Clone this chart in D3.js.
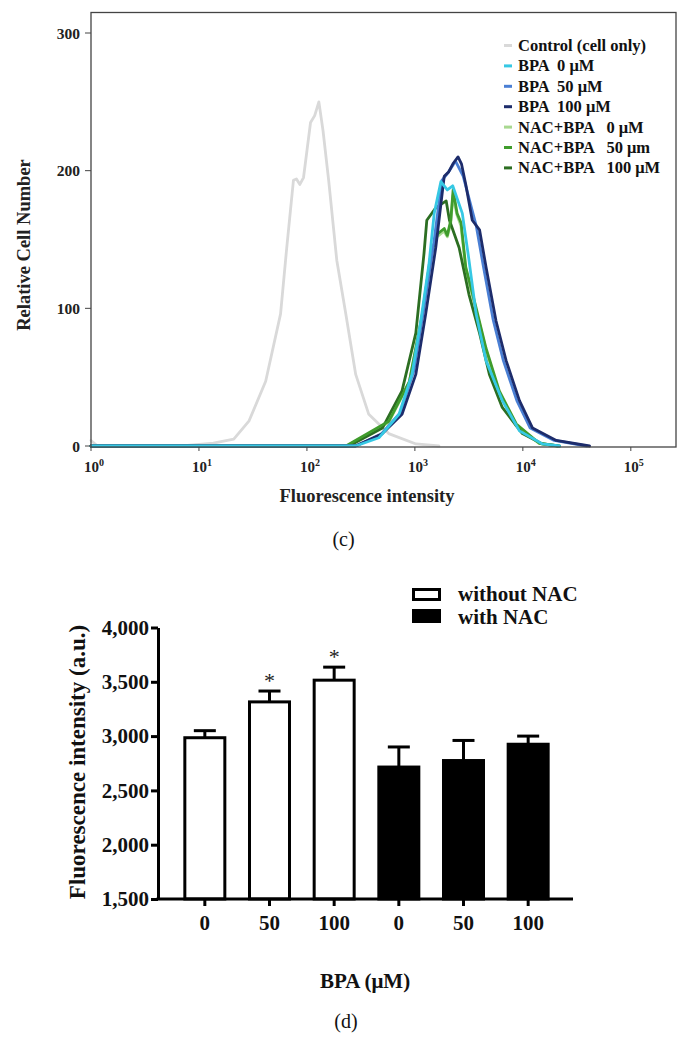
<!DOCTYPE html>
<html><head><meta charset="utf-8">
<script src="https://cdn.jsdelivr.net/npm/d3@7"></script>
<style>
body{margin:0;background:#fff}
svg{display:block}
text{font-family:"Liberation Serif","Times New Roman",Times,serif}
</style>
</head><body>
<svg id="chart" width="693" height="1046"></svg>
<script>
// ---------- Panel (c): flow cytometry histograms ----------
const histNames = ["Control (cell only)","BPA  0 μM","BPA  50 μM","BPA  100 μM","NAC+BPA   0 μM","NAC+BPA   50 μm","NAC+BPA   100 μM"];
const histColors = ["#d9d9d9","#36c8e4","#4a7fd4","#1d2c6b","#a8d890","#3f9c2c","#2c6e22"];
const xTickValues = [1,10,100,1000,10000,100000];
const yTickValuesTop = [0,100,200,300];

// [fluorescence intensity, relative cell number]
const controlCurve = [[1,4],[1.15,0],[6.9,0],[13.6,2],[21,5],[29,18],[41.5,47],[57,96],[65,144],[75,193],[80,194],[86,190],[93,195],[108,235],[118,240],[129,250],[141,229],[159,193],[189,135],[229,96],[283,52],[374,23],[572,9],[1025,1.5],[1670,0]];
const bpa0Curve = [[1,0],[283,0],[464,6],[712,23],[940,52],[1135,91],[1350,132],[1510,169],[1740,192],[1995,186],[2240,189],[2750,169],[3170,135],[3690,96],[4560,62],[6450,33],[9300,11],[15200,1.5],[21900,0]];
const bpa50Curve = [[1,0],[280,0],[480,8],[730,24],[980,55],[1210,100],[1500,148],[1780,193],[2050,199],[2380,207],[2800,196],[3700,160],[4300,131],[5300,92],[6600,62],[8800,33],[11700,13],[19500,4],[39000,0]];
const bpa100Curve = [[1,0],[283,0],[500,9],[760,23],[1020,52],[1260,96],[1560,144],[1870,196],[2050,199],[2250,205],[2510,210],[2700,205],[2960,190],[3400,164],[3970,157],[4560,130],[5640,91],[7000,62],[9300,33],[12300,13],[20400,4],[41500,0]];
const nac0Curve = [[1,0],[235,0],[570,17],[885,46],[1170,95],[1400,138],[1610,152],[1860,156],[2000,152],[2150,162],[2250,182],[2450,168],[2670,160],[2950,129],[3650,100],[4550,70],[6000,39],[8600,15],[14000,2],[21000,0]];
const nac50Curve = [[1,0],[230,0],[574,18],[890,47],[1175,96],[1410,140],[1620,154],[1870,158],[1995,153],[2150,164],[2260,186],[2460,169],[2680,162],[2960,130],[3670,101],[4560,71],[6050,40],[8700,16],[14200,2],[21000,0]];
const nac100Curve = [[1,0],[245,0],[500,13],[760,40],[1020,82],[1215,140],[1290,164],[1560,173],[1950,178],[2090,164],[2570,144],[3170,110],[3970,82],[4900,52],[6450,28],[9900,9],[15200,1.5],[21900,0]];
const histCurves = [controlCurve,bpa0Curve,bpa50Curve,bpa100Curve,nac0Curve,nac50Curve,nac100Curve];

// ---------- Panel (d): bar chart ----------
const barLabels = ["0","50","100","0","50","100"];
const barGroups = ["without NAC","without NAC","without NAC","with NAC","with NAC","with NAC"];
const barMeans = [2985,3315,3515,2715,2775,2925];
const barErrors = [65,100,120,185,185,75];
const barMarks = ["","*","*","","",""];
const yTickValuesBottom = [1500,2000,2500,3000,3500,4000];
const groupNames = ["without NAC","with NAC"];

const svg = d3.select("#chart");

// ===== Panel (c) =====
const fL = 91, fR = 676, fT = 12.5, fB = 447;
const xTop = d3.scaleLog().domain([1,262144]).range([fL,fR]);
const yTop = d3.scaleLinear().domain([0,300]).range([446,33]);

const gc = svg.append("g");
const order = [0,4,6,5,2,3,1];
const line = d3.line().x(d=>xTop(d[0])).y(d=>yTop(d[1]));
order.forEach(i=>{
  gc.append("path").datum(histCurves[i])
    .attr("d",line).attr("fill","none")
    .attr("stroke",histColors[i]).attr("stroke-width",2.8)
    .attr("stroke-linejoin","round").attr("stroke-linecap","round");
});
gc.append("rect").attr("x",fL).attr("y",fT).attr("width",fR-fL).attr("height",fB-fT)
  .attr("fill","none").attr("stroke","#444").attr("stroke-width",1.3);
gc.selectAll(".yt").data(yTickValuesTop).enter().append("line")
  .attr("x1",fL-6).attr("x2",fL).attr("y1",d=>yTop(d)).attr("y2",d=>yTop(d))
  .attr("stroke","#444").attr("stroke-width",1);
gc.selectAll(".ytl").data(yTickValuesTop).enter().append("text")
  .attr("x",80).attr("y",d=>yTop(d)+5.5).attr("text-anchor","end")
  .attr("font-size",15.5).attr("font-weight","bold").attr("fill","#222").text(d=>d);
gc.selectAll(".xt").data(xTickValues).enter().append("line")
  .attr("x1",d=>xTop(d)).attr("x2",d=>xTop(d)).attr("y1",fB).attr("y2",fB+4)
  .attr("stroke","#444").attr("stroke-width",1);
const xl = gc.selectAll(".xtl").data(xTickValues).enter().append("text")
  .attr("x",d=>xTop(d)+3).attr("y",472).attr("text-anchor","middle")
  .attr("font-size",15).attr("font-weight","bold").attr("fill","#222");
xl.append("tspan").text("10");
xl.append("tspan").attr("dy",-6).attr("font-size",10).text(d=>Math.round(Math.log10(d)));
gc.append("text").attr("x",367).attr("y",502).attr("text-anchor","middle")
  .attr("font-size",18.5).attr("font-weight","bold").attr("fill","#222").text("Fluorescence intensity");
gc.append("text").attr("transform","translate(30,245) rotate(-90)").attr("text-anchor","middle")
  .attr("font-size",18.5).attr("font-weight","bold").attr("fill","#222").text("Relative Cell Number");
histNames.forEach((n,i)=>{
  const yy = 45.5 + i*20.4;
  gc.append("line").attr("x1",504).attr("x2",512).attr("y1",yy).attr("y2",yy)
    .attr("stroke",histColors[i]).attr("stroke-width",3);
  gc.append("text").attr("x",518).attr("y",yy+5.5)
    .attr("font-size",16.5).attr("font-weight","bold").attr("fill","#111")
    .style("white-space","pre").text(n);
});
svg.append("text").attr("x",343.5).attr("y",546).attr("text-anchor","middle")
  .attr("font-size",20).attr("fill","#111").text("(c)");

// ===== Panel (d) =====
const gd = svg.append("g");
const yB = d3.scaleLinear().domain([1500,4000]).range([899,627.5]);
const xB = d3.scaleBand().domain(d3.range(barLabels.length)).range([172.5,560.5]);
const barW = 40;
const bars = barLabels.map((l,i)=>({i,label:l,group:barGroups[i],mean:barMeans[i],err:barErrors[i],mark:barMarks[i]}));

bars.forEach(b=>{
  const cx = xB(b.i)+xB.bandwidth()/2;
  gd.append("line").attr("x1",cx).attr("x2",cx).attr("y1",yB(b.mean)).attr("y2",yB(b.mean+b.err))
    .attr("stroke","#000").attr("stroke-width",3);
  gd.append("line").attr("x1",cx-11).attr("x2",cx+11).attr("y1",yB(b.mean+b.err)).attr("y2",yB(b.mean+b.err))
    .attr("stroke","#000").attr("stroke-width",3);
  if(b.mark){
    gd.append("text").attr("x",cx).attr("y",yB(b.mean+b.err)-3).attr("text-anchor","middle")
      .attr("font-size",22).attr("fill","#222").text(b.mark);
  }
});
gd.selectAll(".bar").data(bars).enter().append("rect")
  .attr("x",d=>xB(d.i)+xB.bandwidth()/2-barW/2).attr("width",barW)
  .attr("y",d=>yB(d.mean)).attr("height",d=>yB(1500)-yB(d.mean))
  .attr("fill",d=>d.group==="with NAC"?"#000":"#fff")
  .attr("stroke","#000").attr("stroke-width",3);

const yAxis = d3.axisLeft(yB).tickValues(yTickValuesBottom).tickFormat(d3.format(",")).tickSize(7).tickSizeOuter(0);
const ya = gd.append("g").attr("transform","translate(158,0)").call(yAxis);
ya.select(".domain").attr("stroke","#000").attr("stroke-width",3);
ya.selectAll(".tick line").attr("stroke","#000").attr("stroke-width",3);
ya.selectAll(".tick text").attr("x",-9).attr("font-size",21).attr("font-weight","bold")
  .attr("fill","#111").style("font-family",'"Liberation Serif","Times New Roman",serif');
gd.append("line").attr("x1",156.5).attr("x2",573).attr("y1",899).attr("y2",899)
  .attr("stroke","#000").attr("stroke-width",3);
const xAxis = d3.axisBottom(xB).tickFormat(i=>barLabels[i]).tickSize(7).tickSizeOuter(0);
const xa = gd.append("g").attr("transform","translate(0,899)").call(xAxis);
xa.select(".domain").remove();
xa.selectAll(".tick line").attr("stroke","#000").attr("stroke-width",3);
xa.selectAll(".tick text").attr("y",16).attr("dy","0.71em").attr("font-size",21).attr("font-weight","bold")
  .attr("fill","#111").style("font-family",'"Liberation Serif","Times New Roman",serif');

gd.append("text").attr("x",365).attr("y",988).attr("text-anchor","middle")
  .attr("font-size",21).attr("font-weight","bold").attr("fill","#111").text("BPA (μM)");
gd.append("text").attr("transform","translate(85,762) rotate(-90)").attr("text-anchor","middle")
  .attr("font-size",23).attr("font-weight","bold").attr("fill","#111").text("Fluorescence intensity (a.u.)");
// legend
gd.append("rect").attr("x",413.5).attr("y",589.5).attr("width",26).attr("height",10)
  .attr("fill","#fff").attr("stroke","#000").attr("stroke-width",3);
gd.append("rect").attr("x",412).attr("y",609).attr("width",29).attr("height",14).attr("fill","#000");
gd.append("text").attr("x",458).attr("y",601).attr("font-size",21).attr("font-weight","bold").attr("fill","#111").text(groupNames[0]);
gd.append("text").attr("x",458).attr("y",624).attr("font-size",21).attr("font-weight","bold").attr("fill","#111").text(groupNames[1]);

svg.append("text").attr("x",346).attr("y",1028).attr("text-anchor","middle")
  .attr("font-size",20).attr("fill","#111").text("(d)");
</script>
</body></html>
